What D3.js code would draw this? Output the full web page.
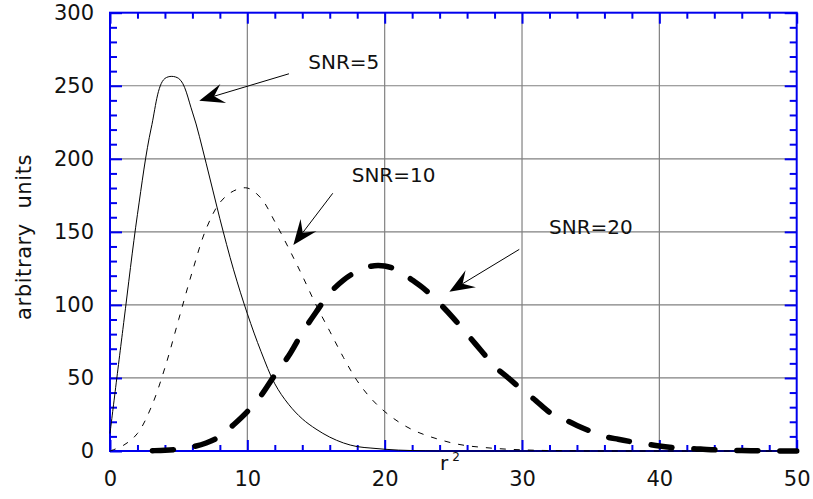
<!DOCTYPE html>
<html>
<head>
  <meta charset="utf-8">
  <title>SNR distributions</title>
  <script src="https://d3js.org/d3.v7.min.js"></script>
  <style>
    body { margin: 0; background: #fff; }
    text { font-family: "DejaVu Sans", sans-serif; fill: #111; }
  </style>
</head>
<body>
  <div id="chart"></div>

  <script>
    // x values (r^2) shared by all curves
    var rSquared = d3.range(0, 51);

    // curve values, one per r^2 value
    var snr5 = [12, 88, 162, 221, 255, 255, 232, 197, 159, 124,
      94, 68, 46, 32, 22, 15, 9.5, 5.5, 3, 2,
      1.2, 0.6, 0.3, 0.1, 0, 0, 0, 0, 0, 0,
      0, 0, 0, 0, 0, 0, 0, 0, 0, 0,
      0, 0, 0, 0, 0, 0, 0, 0, 0, 0, 0];
    var snr10 = [0, 4, 12, 30, 57, 90, 123, 152, 170, 178,
      180, 173, 157, 139, 120, 100, 82, 64, 48, 36,
      27, 20, 14.6, 10.8, 7.8, 5.3, 3.6, 2.6, 1.8, 1.2,
      0.8, 0.5, 0.3, 0.2, 0.1, 0, 0, 0, 0, 0,
      0, 0, 0, 0, 0, 0, 0, 0, 0, 0, 0];
    var snr20 = [null, null, 0, 0.2, 0.5, 1.3, 2.8, 5.5, 10, 18,
      27, 38, 52, 65, 81, 95, 108, 117, 123, 126.5,
      126.6, 123.5, 117, 110, 101, 91, 80, 69, 58, 50,
      42, 34.5, 26.5, 22, 17.5, 13.5, 10, 8, 6.3, 4.8,
      3.4, 2.4, 1.7, 1.3, 0.8, 0.5, 0.3, 0.2, 0.1, 0, 0];

    // tick values
    var xMajor = [0, 10, 20, 30, 40, 50];
    var xMinor = d3.range(0, 51, 2).filter(function(d) { return d % 10 !== 0; });
    var yMajor = [0, 50, 100, 150, 200, 250, 300];
    var yMinor = d3.range(0, 301, 10).filter(function(d) { return d % 50 !== 0; });

    // labels with arrows: text position, arrow tail and tip (data units)
    var notes = [
      { label: "SNR=5",  tx: 14.44, ty: 261.3, tail: [13.03, 258.2], tip: [6.50, 239.8] },
      { label: "SNR=10", tx: 17.60, ty: 184.3, tail: [16.22, 176.4], tip: [13.35, 141.0] },
      { label: "SNR=20", tx: 31.97, ty: 148.3, tail: [29.80, 138.0], tip: [24.71, 109.0] }
    ];

    var width = 813, height = 499;
    var plotL = 110, plotR = 796.7, plotT = 12.7, plotB = 451;
    var blue = "#0000ee";

    var svg = d3.select("#chart").append("svg")
      .attr("width", width)
      .attr("height", height);

    var x = d3.scaleLinear().domain([0, 50]).range([plotL, plotR]);
    var y = d3.scaleLinear().domain([0, 300]).range([plotB, plotT]);

    // grid
    svg.append("g").selectAll("line")
      .data(xMajor.slice(1, -1)).enter().append("line")
      .attr("x1", function(d) { return x(d); }).attr("x2", function(d) { return x(d); })
      .attr("y1", plotT).attr("y2", plotB)
      .attr("stroke", "#808080").attr("stroke-width", 1.2);
    svg.append("g").selectAll("line")
      .data(yMajor.slice(1, -1)).enter().append("line")
      .attr("y1", function(d) { return y(d); }).attr("y2", function(d) { return y(d); })
      .attr("x1", plotL).attr("x2", plotR)
      .attr("stroke", "#808080").attr("stroke-width", 1.2);

    // axes with inward ticks on all four sides
    function styleAxis(g) {
      g.select(".domain").remove();
      g.selectAll(".tick line").attr("stroke", blue).attr("stroke-width", 2);
      g.selectAll(".tick text").attr("font-size", 21).attr("fill", "#111")
        .style("font-family", "DejaVu Sans, sans-serif");
    }
    svg.append("g").attr("transform", "translate(0," + plotB + ")")
      .call(d3.axisBottom(x).tickValues(xMajor).tickSizeInner(-11).tickSizeOuter(0).tickPadding(20))
      .call(styleAxis);
    svg.append("g").attr("transform", "translate(0," + plotB + ")")
      .call(d3.axisBottom(x).tickValues(xMinor).tickSizeInner(-6).tickSizeOuter(0).tickFormat(""))
      .call(styleAxis);
    svg.append("g").attr("transform", "translate(0," + plotT + ")")
      .call(d3.axisTop(x).tickValues(xMajor).tickSizeInner(-11).tickSizeOuter(0).tickFormat(""))
      .call(styleAxis);
    svg.append("g").attr("transform", "translate(0," + plotT + ")")
      .call(d3.axisTop(x).tickValues(xMinor).tickSizeInner(-6).tickSizeOuter(0).tickFormat(""))
      .call(styleAxis);
    svg.append("g").attr("transform", "translate(" + plotL + ",0)")
      .call(d3.axisLeft(y).tickValues(yMajor).tickSizeInner(-12).tickSizeOuter(0).tickPadding(16))
      .call(styleAxis);
    svg.append("g").attr("transform", "translate(" + plotL + ",0)")
      .call(d3.axisLeft(y).tickValues(yMinor).tickSizeInner(-7).tickSizeOuter(0).tickFormat(""))
      .call(styleAxis);
    svg.append("g").attr("transform", "translate(" + plotR + ",0)")
      .call(d3.axisRight(y).tickValues(yMajor).tickSizeInner(-12).tickSizeOuter(0).tickFormat(""))
      .call(styleAxis);
    svg.append("g").attr("transform", "translate(" + plotR + ",0)")
      .call(d3.axisRight(y).tickValues(yMinor).tickSizeInner(-7).tickSizeOuter(0).tickFormat(""))
      .call(styleAxis);

    // frame
    svg.append("rect")
      .attr("x", plotL).attr("y", plotT)
      .attr("width", plotR - plotL).attr("height", plotB - plotT)
      .attr("fill", "none").attr("stroke", blue).attr("stroke-width", 2);

    // curves
    function curveLine(values) {
      return d3.line()
        .defined(function(d, i) { return values[i] != null; })
        .x(function(d) { return x(d); })
        .y(function(d, i) { return y(values[i]); })
        .curve(d3.curveCatmullRom)(rSquared);
    }
    svg.append("path").attr("d", curveLine(snr5))
      .attr("fill", "none").attr("stroke", "#000").attr("stroke-width", 1);
    svg.append("path").attr("d", curveLine(snr10))
      .attr("fill", "none").attr("stroke", "#000").attr("stroke-width", 1)
      .attr("stroke-dasharray", "6,8");
    svg.append("path").attr("d", curveLine(snr20))
      .attr("fill", "none").attr("stroke", "#000").attr("stroke-width", 5.5)
      .attr("stroke-linecap", "round")
      .attr("stroke-dasharray", "21,22").attr("stroke-dashoffset", 28);

    // annotations
    notes.forEach(function(n) {
      var t0 = [x(n.tail[0]), y(n.tail[1])];
      var t1 = [x(n.tip[0]), y(n.tip[1])];
      var dx = t1[0] - t0[0], dy = t1[1] - t0[1];
      var len = Math.sqrt(dx * dx + dy * dy);
      var ux = dx / len, uy = dy / len;
      var L = 25, W = 10;
      var bx = t1[0] - ux * L, by = t1[1] - uy * L;
      var nx = t1[0] - ux * L * 0.62, ny = t1[1] - uy * L * 0.62;
      svg.append("line")
        .attr("x1", t0[0]).attr("y1", t0[1]).attr("x2", nx).attr("y2", ny)
        .attr("stroke", "#000").attr("stroke-width", 1);
      svg.append("path")
        .attr("d", "M" + t1[0] + "," + t1[1] +
          "L" + (bx - uy * W) + "," + (by + ux * W) +
          "L" + nx + "," + ny +
          "L" + (bx + uy * W) + "," + (by - ux * W) + "Z")
        .attr("fill", "#000");
      svg.append("text")
        .attr("x", x(n.tx)).attr("y", y(n.ty))
        .attr("font-size", 20)
        .text(n.label);
    });

    // axis titles
    var xt = svg.append("text").attr("x", 440).attr("y", 470).attr("font-size", 20);
    xt.append("tspan").text("r");
    xt.append("tspan").attr("dx", 4).attr("dy", -9).attr("font-size", 12).text("2");

    svg.append("text")
      .attr("transform", "translate(31,320) rotate(-90)")
      .attr("font-size", 21)
      .attr("letter-spacing", 0.6)
      .style("white-space", "pre")
      .text("arbitrary  units");
  </script>
</body>
</html>
